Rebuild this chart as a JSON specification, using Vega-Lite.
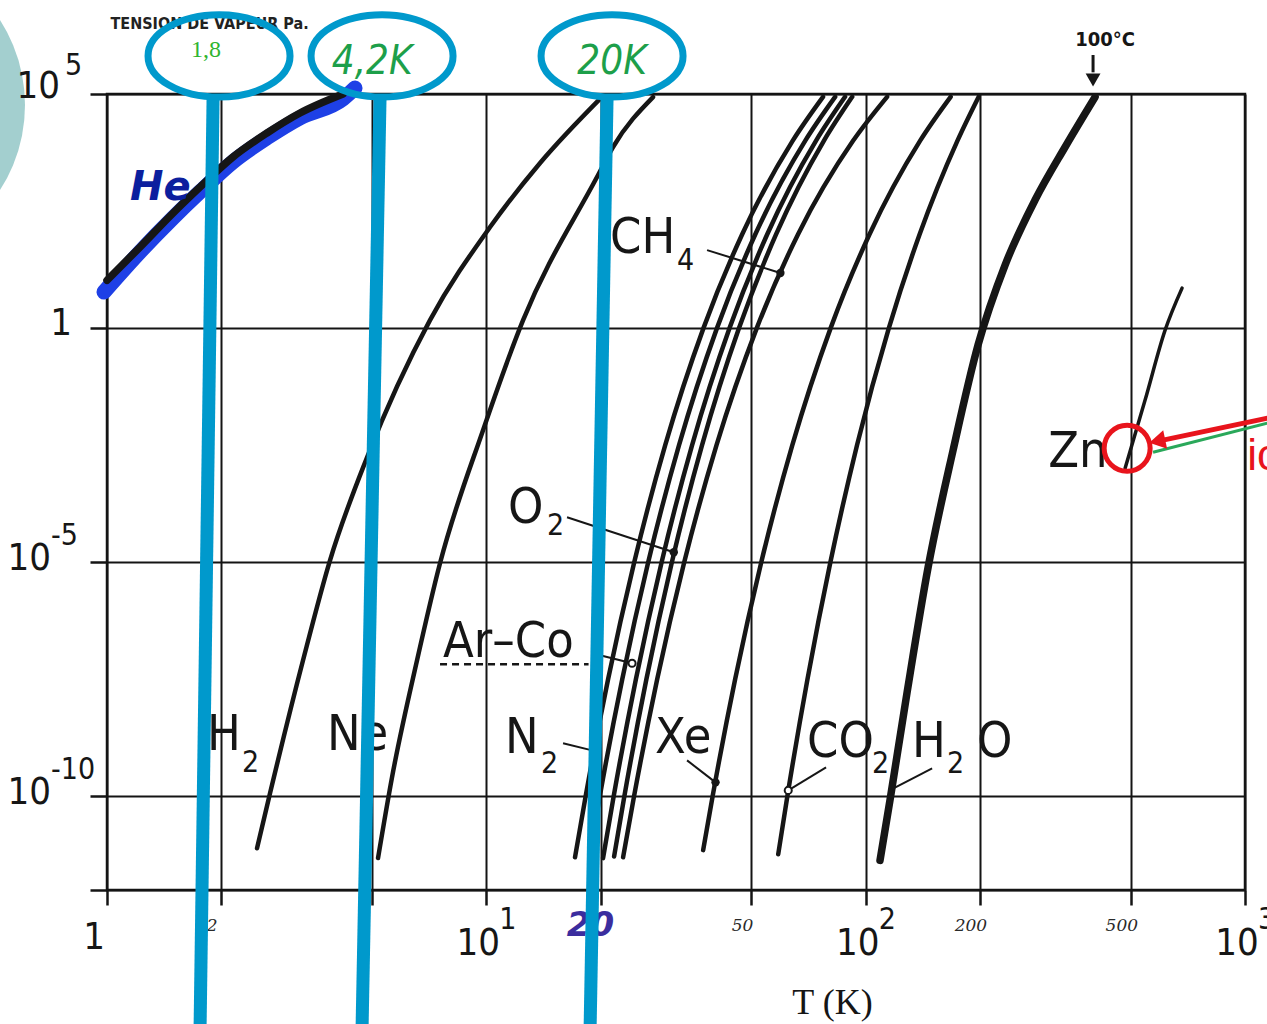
{
  "$schema": "https://vega.github.io/schema/vega-lite/v6.json",
  "width": 1138,
  "height": 796,
  "autosize": {"type": "none"},
  "padding": {"left": 107, "top": 94, "right": 22, "bottom": 134},
  "background": "#ffffff",
  "config": {"view": {"stroke": "#141414", "strokeWidth": 2.5}},
  "datasets": {
    "curves": [
      {"s": "Hb", "T": 0.982, "P": 5.9}, {"s": "Hb", "T": 1.222, "P": 42.5}, {"s": "Hb", "T": 1.493, "P": 226}, {"s": "Hb", "T": 1.759, "P": 814}, {"s": "Hb", "T": 2.148, "P": 3560}, {"s": "Hb", "T": 2.641, "P": 11600}, {"s": "Hb", "T": 3.227, "P": 31000}, {"s": "Hb", "T": 4.19, "P": 79000}, {"s": "Hb", "T": 4.507, "P": 134000},
      {"s": "He", "T": 1.0, "P": 10.5}, {"s": "He", "T": 1.222, "P": 53.8}, {"s": "He", "T": 1.493, "P": 286}, {"s": "He", "T": 1.759, "P": 1030}, {"s": "He", "T": 2.148, "P": 4510}, {"s": "He", "T": 2.641, "P": 14700}, {"s": "He", "T": 3.227, "P": 39300}, {"s": "He", "T": 4.19, "P": 100000},
      {"s": "H2", "T": 2.486, "P": 7.8e-12}, {"s": "H2", "T": 2.69, "P": 1.16e-10}, {"s": "H2", "T": 3.287, "P": 8.05e-8}, {"s": "H2", "T": 3.872, "P": 1.1e-5}, {"s": "H2", "T": 4.849, "P": 1.75e-3}, {"s": "H2", "T": 7.105, "P": 1.48}, {"s": "H2", "T": 10.23, "P": 144}, {"s": "H2", "T": 13.86, "P": 3360}, {"s": "H2", "T": 20.3, "P": 91000},
      {"s": "Ne", "T": 5.182, "P": 4.8e-12}, {"s": "Ne", "T": 5.641, "P": 2.55e-10}, {"s": "Ne", "T": 6.567, "P": 8.05e-8}, {"s": "Ne", "T": 7.549, "P": 9.5e-6}, {"s": "Ne", "T": 9.802, "P": 6.6e-3}, {"s": "Ne", "T": 12.5, "P": 1.48}, {"s": "Ne", "T": 19.58, "P": 1683}, {"s": "Ne", "T": 21.58, "P": 7380}, {"s": "Ne", "T": 27.51, "P": 86000},
      {"s": "N2", "T": 17.13, "P": 5.0e-12}, {"s": "N2", "T": 18.27, "P": 1e-10}, {"s": "N2", "T": 20.94, "P": 3.16e-8}, {"s": "N2", "T": 24.54, "P": 1e-5}, {"s": "N2", "T": 29.62, "P": 3.16e-3}, {"s": "N2", "T": 37.36, "P": 1}, {"s": "N2", "T": 47.23, "P": 100}, {"s": "N2", "T": 64.18, "P": 10000}, {"s": "N2", "T": 77.2, "P": 87000},
      {"s": "CO", "T": 18.77, "P": 6.3e-12}, {"s": "CO", "T": 19.91, "P": 1e-10}, {"s": "CO", "T": 22.82, "P": 3.16e-8}, {"s": "CO", "T": 26.71, "P": 1e-5}, {"s": "CO", "T": 32.21, "P": 3.16e-3}, {"s": "CO", "T": 40.55, "P": 1}, {"s": "CO", "T": 51.15, "P": 100}, {"s": "CO", "T": 69.26, "P": 10000}, {"s": "CO", "T": 83.1, "P": 87000},
      {"s": "Ar", "T": 20.31, "P": 4.8e-12}, {"s": "Ar", "T": 21.66, "P": 1e-10}, {"s": "Ar", "T": 24.79, "P": 3.16e-8}, {"s": "Ar", "T": 28.98, "P": 1e-5}, {"s": "Ar", "T": 34.87, "P": 3.16e-3}, {"s": "Ar", "T": 43.77, "P": 1}, {"s": "Ar", "T": 54.99, "P": 100}, {"s": "Ar", "T": 73.95, "P": 10000}, {"s": "Ar", "T": 88.25, "P": 87000},
      {"s": "O2", "T": 21.72, "P": 5.2e-12}, {"s": "O2", "T": 23.11, "P": 1e-10}, {"s": "O2", "T": 26.42, "P": 3.16e-8}, {"s": "O2", "T": 30.84, "P": 1e-5}, {"s": "O2", "T": 37.04, "P": 3.16e-3}, {"s": "O2", "T": 46.36, "P": 1}, {"s": "O2", "T": 58.04, "P": 100}, {"s": "O2", "T": 77.58, "P": 10000}, {"s": "O2", "T": 92.16, "P": 87000},
      {"s": "CH4", "T": 22.94, "P": 5.0e-12}, {"s": "CH4", "T": 24.51, "P": 1e-10}, {"s": "CH4", "T": 28.21, "P": 3.16e-8}, {"s": "CH4", "T": 33.24, "P": 1e-5}, {"s": "CH4", "T": 40.44, "P": 3.16e-3}, {"s": "CH4", "T": 51.63, "P": 1}, {"s": "CH4", "T": 66.3, "P": 100}, {"s": "CH4", "T": 92.63, "P": 10000}, {"s": "CH4", "T": 113.9, "P": 87000},
      {"s": "Xe", "T": 37.29, "P": 7.1e-12}, {"s": "Xe", "T": 39.49, "P": 1e-10}, {"s": "Xe", "T": 45.28, "P": 3.16e-8}, {"s": "Xe", "T": 53.06, "P": 1e-5}, {"s": "Xe", "T": 64.07, "P": 3.16e-3}, {"s": "Xe", "T": 80.84, "P": 1}, {"s": "Xe", "T": 102.3, "P": 100}, {"s": "Xe", "T": 139.1, "P": 10000}, {"s": "Xe", "T": 167.5, "P": 87000},
      {"s": "CO2", "T": 58.81, "P": 5.8e-12}, {"s": "CO2", "T": 62.16, "P": 1e-10}, {"s": "CO2", "T": 70.23, "P": 3.16e-8}, {"s": "CO2", "T": 80.72, "P": 1e-5}, {"s": "CO2", "T": 94.88, "P": 3.16e-3}, {"s": "CO2", "T": 115.1, "P": 1}, {"s": "CO2", "T": 138.7, "P": 100}, {"s": "CO2", "T": 174.5, "P": 10000}, {"s": "CO2", "T": 198.5, "P": 87000},
      {"s": "H2O", "T": 109.1, "P": 4.3e-12}, {"s": "H2O", "T": 116.0, "P": 8.6e-11}, {"s": "H2O", "T": 128.6, "P": 1.67e-8}, {"s": "H2O", "T": 146.1, "P": 7.8e-6}, {"s": "H2O", "T": 170.0, "P": 2.47e-3}, {"s": "H2O", "T": 197.8, "P": 0.434}, {"s": "H2O", "T": 233.1, "P": 22.2}, {"s": "H2O", "T": 279.6, "P": 543}, {"s": "H2O", "T": 335.6, "P": 7380}, {"s": "H2O", "T": 402.5, "P": 86000},
      {"s": "Zn", "T": 483, "P": 1.02e-3}, {"s": "Zn", "T": 545.3, "P": 2.9e-2}, {"s": "Zn", "T": 615.7, "P": 0.906}, {"s": "Zn", "T": 682.5, "P": 7.16}
    ],
    "leaders": [
      {"T": 38.19, "P": 46.4, "T2": 59.6, "P2": 15},
      {"T": 16.32, "P": 9.16e-5, "T2": 31.2, "P2": 1.64e-5},
      {"T": 19.94, "P": 1.03e-7, "T2": 24.22, "P2": 6.95e-8},
      {"T": 15.93, "P": 1.36e-9, "T2": 19.0, "P2": 9.6e-10},
      {"T": 33.82, "P": 5.87e-10, "T2": 40.2, "P2": 1.99e-10},
      {"T": 78.63, "P": 4.17e-10, "T2": 62.5, "P2": 1.34e-10},
      {"T": 149.7, "P": 3.96e-10, "T2": 117, "P2": 1.41e-10}
    ],
    "dotsFilled": [
      {"T": 59.6, "P": 15}, {"T": 31.2, "P": 1.64e-5}, {"T": 40.2, "P": 1.99e-10}
    ],
    "dotsOpen": [
      {"T": 62.5, "P": 1.34e-10}, {"T": 24.22, "P": 6.95e-8}
    ],
    "labelsMain": [
      {"t": "CH", "T": 21.19, "P": 40.1},
      {"t": "O", "T": 11.41, "P": 6.81e-5},
      {"t": "Ar–Co", "T": 7.69, "P": 9.3e-8},
      {"t": "N", "T": 11.2, "P": 8.3e-10},
      {"t": "H", "T": 1.835, "P": 9.6e-10},
      {"t": "Ne", "T": 3.8, "P": 9.6e-10},
      {"t": "Xe", "T": 27.85, "P": 8.3e-10},
      {"t": "CO", "T": 70.08, "P": 6.8e-10},
      {"t": "H", "T": 132.5, "P": 6.8e-10},
      {"t": "O", "T": 196.7, "P": 6.8e-10},
      {"t": "Zn", "T": 302.7, "P": 1.07e-3}
    ],
    "labelsSub": [
      {"t": "4", "T": 31.83, "P": 17.3},
      {"t": "2", "T": 14.45, "P": 3.78e-5},
      {"t": "2", "T": 13.94, "P": 3.1e-10},
      {"t": "2", "T": 2.27, "P": 3.26e-10},
      {"t": "2", "T": 103.9, "P": 3.1e-10},
      {"t": "2", "T": 163.9, "P": 3.1e-10}
    ],
    "ylabels": [
      {"T": 1, "P": 100000, "base": "10", "exp": "5", "g": "pos"},
      {"T": 1, "P": 1, "base": "1", "exp": "", "g": "one"},
      {"T": 1, "P": 1e-5, "base": "10", "exp": "-5", "g": "neg"},
      {"T": 1, "P": 1e-10, "base": "10", "exp": "-10", "g": "neg"}
    ],
    "xlabels": [
      {"T": 1, "P": 1e-12, "base": "1", "exp": "", "g": "one"},
      {"T": 10, "P": 1e-12, "base": "10", "exp": "1", "g": "dec"},
      {"T": 100, "P": 1e-12, "base": "10", "exp": "2", "g": "dec"},
      {"T": 1000, "P": 1e-12, "base": "10", "exp": "3", "g": "dec"},
      {"T": 2, "P": 1e-12, "base": "2", "exp": "", "g": "hand"},
      {"T": 5, "P": 1e-12, "base": "5", "exp": "", "g": "hand"},
      {"T": 50, "P": 1e-12, "base": "50", "exp": "", "g": "hand"},
      {"T": 200, "P": 1e-12, "base": "200", "exp": "", "g": "hand"},
      {"T": 500, "P": 1e-12, "base": "500", "exp": "", "g": "hand"},
      {"T": 20, "P": 1e-12, "base": "20", "exp": "", "g": "purple"}
    ],
    "bluelines": [
      {"T": 1.904, "P": 86000, "T2": 1.759, "P2": 1e-15},
      {"T": 5.246, "P": 86000, "T2": 4.702, "P2": 1e-15},
      {"T": 20.81, "P": 86000, "T2": 18.77, "P2": 1e-15}
    ],
    "ellipses": [
      {"T": 1.974, "P": 650000}, {"T": 5.31, "P": 650000}, {"T": 21.45, "P": 650000}
    ]
  },
  "encoding": {
    "x": {
      "field": "T", "type": "quantitative",
      "scale": {"type": "log", "domain": [1, 1000], "nice": false},
      "axis": {
        "values": [1, 2, 5, 10, 20, 50, 100, 200, 500, 1000],
        "labels": false, "domain": false,
        "grid": true, "gridColor": "#141414", "gridOpacity": 1, "gridWidth": 2,
        "ticks": true, "tickColor": "#141414", "tickSize": 15, "tickWidth": 2.5,
        "title": "T (K)", "titleFont": "Liberation Serif, DejaVu Serif, serif", "titleFontSize": 36, "titleFontWeight": "normal", "titleColor": "#151515",
        "titleX": 725, "titleY": 123, "titleAlign": "center", "titleBaseline": "alphabetic"
      }
    },
    "y": {
      "field": "P", "type": "quantitative",
      "scale": {"type": "log", "domain": [1e-12, 100000], "nice": false},
      "axis": {
        "values": [1e-12, 1e-10, 1e-5, 1, 100000],
        "labels": false, "domain": false,
        "grid": true, "gridColor": "#141414", "gridOpacity": 1, "gridWidth": 2,
        "ticks": true, "tickColor": "#141414", "tickSize": 17, "tickWidth": 2.5,
        "title": "TENSION DE VAPEUR Pa.", "titleAngle": 0, "titleX": 3, "titleY": -66, "titleAlign": "left", "titleBaseline": "alphabetic",
        "titleFont": "Liberation Sans Narrow, DejaVu Sans Condensed, Roboto Condensed, sans-serif", "titleFontSize": 16, "titleFontWeight": "bold", "titleColor": "#222222"
      }
    }
  },
  "layer": [
    {"data": {"values": [{"T": 0.2344, "P": 58000}]}, "mark": {"type": "point", "shape": "circle", "filled": true, "size": 98600, "color": "#a3cfcf", "opacity": 1}},
    {"data": {"name": "curves"}, "transform": [{"filter": "datum.s == 'Hb'"}], "mark": {"type": "line", "color": "#1e40e6", "strokeWidth": 15, "strokeCap": "round", "interpolate": "monotone"}},
    {"data": {"name": "curves"}, "transform": [{"filter": "datum.s == 'He' || datum.s == 'H2O'"}], "mark": {"type": "line", "color": "#161616", "strokeWidth": 7.5, "strokeCap": "round", "interpolate": "monotone"}, "encoding": {"detail": {"field": "s"}}},
    {"data": {"name": "curves"}, "transform": [{"filter": "datum.s == 'Zn'"}], "mark": {"type": "line", "color": "#161616", "strokeWidth": 3.5, "strokeCap": "round", "interpolate": "monotone"}},
    {"data": {"name": "curves"}, "transform": [{"filter": "datum.s != 'Hb' && datum.s != 'He' && datum.s != 'H2O' && datum.s != 'Zn'"}], "mark": {"type": "line", "color": "#161616", "strokeWidth": 4.5, "strokeCap": "round", "interpolate": "monotone"}, "encoding": {"detail": {"field": "s"}}},
    {"data": {"name": "leaders"}, "mark": {"type": "rule", "color": "#161616", "strokeWidth": 2}, "encoding": {"x2": {"field": "T2"}, "y2": {"field": "P2"}}},
    {"data": {"values": [{"T": 7.55, "P": 6.6e-8, "T2": 18.6}]}, "mark": {"type": "rule", "color": "#161616", "strokeWidth": 2.5, "strokeDash": [7, 5]}, "encoding": {"x2": {"field": "T2"}}},
    {"data": {"name": "dotsFilled"}, "mark": {"type": "point", "shape": "circle", "filled": true, "size": 70, "color": "#161616", "opacity": 1}},
    {"data": {"name": "dotsOpen"}, "mark": {"type": "point", "shape": "circle", "filled": false, "size": 50, "stroke": "#161616", "fill": "#ffffff", "fillOpacity": 1, "strokeWidth": 2, "opacity": 1}},
    {"data": {"name": "labelsMain"}, "mark": {"type": "text", "align": "left", "baseline": "alphabetic", "fontSize": 50, "font": "Liberation Sans Narrow, DejaVu Sans Condensed, Roboto Condensed, sans-serif", "color": "#161616"}, "encoding": {"text": {"field": "t"}}},
    {"data": {"name": "labelsSub"}, "mark": {"type": "text", "align": "left", "baseline": "alphabetic", "fontSize": 30, "font": "Liberation Sans Narrow, DejaVu Sans Condensed, Roboto Condensed, sans-serif", "color": "#161616"}, "encoding": {"text": {"field": "t"}}},
    {"data": {"values": [{"T": 1.15, "P": 543, "t": "He"}]}, "mark": {"type": "text", "align": "left", "baseline": "alphabetic", "fontSize": 40, "fontWeight": "bold", "fontStyle": "italic", "font": "DejaVu Sans, sans-serif", "color": "#0c1f9e"}, "encoding": {"text": {"field": "t"}}},
    {"data": {"name": "ylabels"}, "transform": [{"filter": "datum.g == 'pos'"}], "mark": {"type": "text", "align": "right", "baseline": "middle", "dx": -47, "dy": -7, "fontSize": 38, "font": "Liberation Sans Narrow, DejaVu Sans Condensed, Roboto Condensed, sans-serif", "color": "#161616"}, "encoding": {"text": {"field": "base"}}},
    {"data": {"name": "ylabels"}, "transform": [{"filter": "datum.g == 'pos'"}], "mark": {"type": "text", "align": "left", "baseline": "middle", "dx": -42, "dy": -28, "fontSize": 30, "font": "Liberation Sans Narrow, DejaVu Sans Condensed, Roboto Condensed, sans-serif", "color": "#161616"}, "encoding": {"text": {"field": "exp"}}},
    {"data": {"name": "ylabels"}, "transform": [{"filter": "datum.g == 'one'"}], "mark": {"type": "text", "align": "right", "baseline": "middle", "dx": -35, "dy": -4, "fontSize": 38, "font": "Liberation Sans Narrow, DejaVu Sans Condensed, Roboto Condensed, sans-serif", "color": "#161616"}, "encoding": {"text": {"field": "base"}}},
    {"data": {"name": "ylabels"}, "transform": [{"filter": "datum.g == 'neg'"}], "mark": {"type": "text", "align": "right", "baseline": "middle", "dx": -56, "dy": -3, "fontSize": 38, "font": "Liberation Sans Narrow, DejaVu Sans Condensed, Roboto Condensed, sans-serif", "color": "#161616"}, "encoding": {"text": {"field": "base"}}},
    {"data": {"name": "ylabels"}, "transform": [{"filter": "datum.g == 'neg'"}], "mark": {"type": "text", "align": "left", "baseline": "middle", "dx": -56, "dy": -26, "fontSize": 30, "font": "Liberation Sans Narrow, DejaVu Sans Condensed, Roboto Condensed, sans-serif", "color": "#161616"}, "encoding": {"text": {"field": "exp"}}},
    {"data": {"name": "xlabels"}, "transform": [{"filter": "datum.g == 'one'"}], "mark": {"type": "text", "align": "center", "baseline": "middle", "dx": -13, "dy": 48, "fontSize": 38, "font": "Liberation Sans Narrow, DejaVu Sans Condensed, Roboto Condensed, sans-serif", "color": "#161616"}, "encoding": {"text": {"field": "base"}}},
    {"data": {"name": "xlabels"}, "transform": [{"filter": "datum.g == 'dec'"}], "mark": {"type": "text", "align": "center", "baseline": "middle", "dx": -8, "dy": 54, "fontSize": 38, "font": "Liberation Sans Narrow, DejaVu Sans Condensed, Roboto Condensed, sans-serif", "color": "#161616"}, "encoding": {"text": {"field": "base"}}},
    {"data": {"name": "xlabels"}, "transform": [{"filter": "datum.g == 'dec'"}], "mark": {"type": "text", "align": "left", "baseline": "middle", "dx": 13, "dy": 30, "fontSize": 30, "font": "Liberation Sans Narrow, DejaVu Sans Condensed, Roboto Condensed, sans-serif", "color": "#161616"}, "encoding": {"text": {"field": "exp"}}},
    {"data": {"name": "xlabels"}, "transform": [{"filter": "datum.g == 'hand'"}], "mark": {"type": "text", "align": "center", "baseline": "middle", "dx": -9, "dy": 36, "fontSize": 17, "fontStyle": "italic", "font": "DejaVu Serif, serif", "color": "#2a2a2a"}, "encoding": {"text": {"field": "base"}}},
    {"data": {"name": "xlabels"}, "transform": [{"filter": "datum.g == 'purple'"}], "mark": {"type": "text", "align": "center", "baseline": "middle", "dx": -10, "dy": 36, "fontSize": 34, "fontStyle": "italic", "fontWeight": "bold", "font": "DejaVu Sans, sans-serif", "color": "#3b2d9e"}, "encoding": {"text": {"field": "base"}}},
    {"data": {"values": [{"T": 427.7, "P": 1430000, "t": "100°C"}]}, "mark": {"type": "text", "align": "center", "baseline": "middle", "fontSize": 20, "fontWeight": "bold", "font": "Liberation Sans Narrow, DejaVu Sans Condensed, sans-serif", "color": "#161616"}, "encoding": {"text": {"field": "t"}}},
    {"data": {"values": [{"T": 397.6, "P": 680000, "P2": 290000}]}, "mark": {"type": "rule", "color": "#161616", "strokeWidth": 3}, "encoding": {"y2": {"field": "P2"}}},
    {"data": {"values": [{"T": 397.6, "P": 199000}]}, "mark": {"type": "point", "shape": "triangle-down", "filled": true, "size": 220, "color": "#161616", "opacity": 1}},
    {"data": {"name": "bluelines"}, "mark": {"type": "rule", "color": "#0099cc", "strokeWidth": 13}, "encoding": {"x2": {"field": "T2"}, "y2": {"field": "P2"}}},
    {"data": {"name": "ellipses"}, "mark": {"type": "point", "shape": "M -1 0 C -1 -0.3203 -0.5523 -0.58 0 -0.58 C 0.5523 -0.58 1 -0.3203 1 0 C 1 0.3203 0.5523 0.58 0 0.58 C -0.5523 0.58 -1 0.3203 -1 0 Z", "size": 20164, "filled": false, "stroke": "#0099cc", "strokeWidth": 7, "opacity": 1}},
    {"data": {"values": [{"T": 1.824, "P": 870000, "t": "1,8"}]}, "mark": {"type": "text", "align": "center", "baseline": "middle", "fontSize": 24, "font": "Liberation Serif, DejaVu Serif, serif", "color": "#2fb52f"}, "encoding": {"text": {"field": "t"}}},
    {"data": {"values": [{"T": 5.0, "P": 483000, "t": "4,2K"}, {"T": 21.45, "P": 483000, "t": "20K"}]}, "mark": {"type": "text", "align": "center", "baseline": "middle", "fontSize": 40, "fontStyle": "italic", "font": "DejaVu Sans Condensed, Liberation Sans Narrow, sans-serif", "color": "#1d9f4a"}, "encoding": {"text": {"field": "t"}}},
    {"data": {"values": [{"T": 572.4, "P": 0.00224, "T2": 1144, "P2": 0.0093}]}, "mark": {"type": "rule", "color": "#2aa85a", "strokeWidth": 3}, "encoding": {"x2": {"field": "T2"}, "y2": {"field": "P2"}}},
    {"data": {"values": [{"T": 1300, "P": 0.0148, "T2": 608, "P2": 0.00405}]}, "mark": {"type": "rule", "color": "#e8141c", "strokeWidth": 5}, "encoding": {"x2": {"field": "T2"}, "y2": {"field": "P2"}}},
    {"data": {"values": [{"T": 587, "P": 0.00385}]}, "mark": {"type": "point", "shape": "triangle-left", "angle": -12, "filled": true, "size": 350, "color": "#e8141c", "opacity": 1}},
    {"data": {"values": [{"T": 489, "P": 0.00273}]}, "mark": {"type": "point", "shape": "circle", "filled": false, "size": 2116, "stroke": "#e8141c", "strokeWidth": 5, "opacity": 1}},
    {"data": {"values": [{"T": 1013, "P": 0.00092, "t": "ici"}]}, "mark": {"type": "text", "align": "left", "baseline": "alphabetic", "fontSize": 44, "font": "Liberation Sans, sans-serif", "color": "#e8141c"}, "encoding": {"text": {"field": "t"}}}
  ]
}
